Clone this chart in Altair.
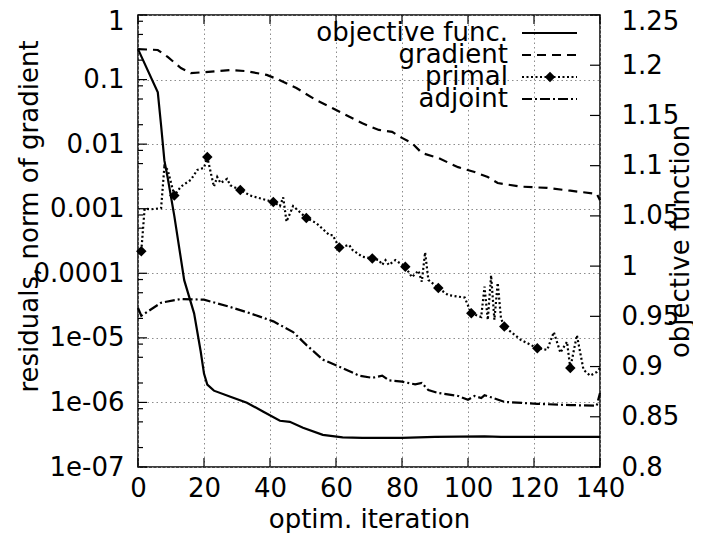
import altair as alt
import pandas as pd

# ---------------- data ----------------
series_names = ["objective func.", "gradient", "primal", "adjoint"]

obj_it = [0, 6, 7, 8, 9, 11, 14, 17, 19, 20, 21, 23, 28, 33, 38, 43, 46, 50, 56, 62, 68, 80, 90, 105, 110, 140]
obj_val = [1.216, 1.173, 1.14, 1.105, 1.088, 1.05, 0.986, 0.953, 0.915, 0.893, 0.882, 0.876, 0.870,
           0.864, 0.855, 0.846, 0.845, 0.839, 0.832, 0.8295, 0.829, 0.829, 0.830, 0.8305, 0.830, 0.830]

grad_it = [0, 6, 9, 13, 16, 20, 28, 33, 39, 43, 48, 54, 59, 68, 73, 77, 80, 83, 86, 91, 97, 102,
           106, 109, 116, 124, 131, 139, 140]
grad_val = [0.297, 0.287, 0.224, 0.151, 0.126, 0.13, 0.14, 0.135, 0.118, 0.098, 0.074, 0.048, 0.036,
            0.021, 0.0166, 0.0155, 0.0125, 0.0104, 0.0073, 0.0061, 0.0044, 0.0037, 0.0031, 0.0025,
            0.0022, 0.0021, 0.0019, 0.0017, 0.00135]

primal_it = [1, 2, 4, 7, 8, 9, 11, 13, 16, 18, 20, 21, 23, 24, 25, 27, 28, 31, 34, 38, 41, 43, 44,
             45, 47, 51, 54, 58, 59, 61, 64, 65, 68, 71, 73, 74, 75, 76, 78, 81, 83, 85, 86, 87, 88,
             91, 94, 99, 101, 104, 105, 106, 107, 108, 109, 110, 111, 116, 121, 124, 126, 128, 130,
             131, 133, 135, 137, 139, 140]
primal_val = [2.2e-4, 1.0e-3, 9.8e-4, 1.02e-3, 4.5e-3, 4.0e-3, 1.6e-3, 2.2e-3, 2.8e-3, 4.0e-3,
              4.3e-3, 6.3e-3, 2.2e-3, 3.1e-3, 2.5e-3, 2.9e-3, 2.3e-3, 1.95e-3, 1.6e-3, 1.4e-3,
              1.27e-3, 1.1e-3, 1.5e-3, 6.3e-4, 1.1e-3, 7.2e-4, 6.0e-4, 3.9e-4, 3.9e-4, 2.5e-4,
              2.75e-4, 2.3e-4, 1.8e-4, 1.7e-4, 1.6e-4, 1.35e-4, 1.6e-4, 1.35e-4, 1.6e-4, 1.26e-4,
              8.7e-5, 1.1e-4, 7.4e-5, 2.1e-4, 7.9e-5, 5.9e-5, 4.6e-5, 4.2e-5, 2.4e-5, 2.1e-5,
              6.2e-5, 1.9e-5, 9.3e-5, 1.9e-5, 7.1e-5, 2.0e-5, 1.5e-5, 9.3e-6, 6.9e-6, 6.5e-6,
              1.23e-5, 5.9e-6, 8.7e-6, 3.4e-6, 1.1e-5, 3.2e-6, 2.6e-6, 2.95e-6, 3.4e-6]
primal_marker_it = [1, 11, 21, 31, 41, 51, 61, 71, 81, 91, 101, 111, 121, 131]

adj_it = [0, 1, 7, 13, 20, 28, 34, 41, 47, 51, 56, 62, 67, 71, 74, 76, 80, 84, 86, 88, 91, 97, 100,
          102, 104, 105, 107, 111, 121, 131, 139, 140]
adj_val = [2.9e-5, 2.2e-5, 3.5e-5, 4.0e-5, 3.9e-5, 3.0e-5, 2.4e-5, 1.8e-5, 1.23e-5, 7.8e-6, 4.6e-6,
           3.4e-6, 2.6e-6, 2.4e-6, 2.6e-6, 2.2e-6, 2.1e-6, 1.9e-6, 2.0e-6, 1.55e-6, 1.4e-6, 1.26e-6,
           1.1e-6, 1.26e-6, 1.17e-6, 1.29e-6, 1.2e-6, 1.02e-6, 9.5e-7, 9.1e-7, 8.9e-7, 1.4e-6]

x_ticks = [0, 20, 40, 60, 80, 100, 120, 140]
y_ticks = [1e-7, 1e-6, 1e-5, 1e-4, 1e-3, 1e-2, 1e-1, 1]
y_minor_mult = [2, 5, 8]
y2_ticks = [0.8, 0.85, 0.9, 0.95, 1.0, 1.05, 1.1, 1.15, 1.2, 1.25]

# ---------------- tables ----------------
left_df = pd.concat([
    pd.DataFrame({"it": grad_it, "v": grad_val, "series": "gradient"}),
    pd.DataFrame({"it": primal_it, "v": primal_val, "series": "primal"}),
    pd.DataFrame({"it": adj_it, "v": adj_val, "series": "adjoint"}),
], ignore_index=True)
primal_df = pd.DataFrame({"it": primal_it, "v": primal_val})
marker_df = primal_df[primal_df["it"].isin(primal_marker_it)]
obj_df = pd.DataFrame({"it": obj_it, "obj": obj_val})
minor_vals = [m * d for d in y_ticks[:-1] for m in y_minor_mult]

FONT = "DejaVu Sans"
FS = 26
GRID = dict(grid=True, gridColor="#8c8c8c", gridDash=[1.5, 3], gridWidth=1)

x_enc = alt.X(
    "it:Q",
    scale=alt.Scale(domain=[0, 140], nice=False, zero=False),
    axis=alt.Axis(values=x_ticks, title="optim. iteration", ticks=False, tickSize=0, domain=False,
                  labelPadding=29, labelBaseline="alphabetic", labelFlush=False, labelOverlap=False,
                  titleX=231, titleY=60, titleAlign="center", titleBaseline="alphabetic", **GRID),
)

yl_enc = alt.Y(
    "v:Q",
    scale=alt.Scale(type="log", domain=[1e-7, 1], nice=False),
    axis=alt.Axis(values=y_ticks,
                  labelExpr="datum.value >= 0.0001 ? format(datum.value, '~g') : '1e-0' + format(-round(log(datum.value)/LN10), 'd')",
                  title="residuals, norm of gradient", ticks=False, tickSize=0, domain=False,
                  labelPadding=14, labelBaseline="middle", labelOverlap=False,
                  labelOffset={"condition": {"test": "datum.value >= 0.5", "value": 6}, "value": 0},
                  titleAngle=270, titleX=-101, titleY=201, titleAlign="center",
                  titleBaseline="alphabetic", **GRID),
)

yr_enc = alt.Y(
    "obj:Q",
    scale=alt.Scale(domain=[0.8, 1.25], nice=False, zero=False),
    axis=alt.Axis(orient="right", values=y2_ticks, format="~g", title="objective function",
                  grid=False, ticks=False, tickSize=0, domain=False, labelPadding=21,
                  labelBaseline="middle", labelOverlap=False,
                  labelOffset={"condition": {"test": "datum.value >= 1.24", "value": 6}, "value": 0},
                  titleAngle=270, titleX=88,
                  titleY=226, titleAlign="center", titleBaseline="alphabetic"),
)

dash_scale = alt.Scale(domain=series_names, range=[[1, 0], [9, 6], [2, 2.5], [10, 3, 2, 3]])

# ---------------- left (log) group ----------------
lines_left = alt.Chart(left_df).mark_line(color="black", strokeWidth=2.2).encode(
    x=x_enc, y=yl_enc,
    strokeDash=alt.StrokeDash("series:N", scale=dash_scale, legend=None),
    detail="series:N",
)
markers = alt.Chart(marker_df).mark_point(shape="diamond", filled=True, size=110, color="black",
                                          opacity=1).encode(x=x_enc, y=yl_enc)
left_major = alt.Chart(pd.DataFrame({"v": y_ticks})).mark_rule(color="black", strokeWidth=1.2).encode(
    y=yl_enc, x=alt.value(0), x2=alt.value(9))
left_minor = alt.Chart(pd.DataFrame({"v": minor_vals})).mark_rule(color="black", strokeWidth=1.2).encode(
    y=yl_enc, x=alt.value(0), x2=alt.value(5))
bottom_ticks = alt.Chart(pd.DataFrame({"it": x_ticks})).mark_rule(color="black", strokeWidth=1.2).encode(
    x=x_enc, y=alt.value(452), y2=alt.value(443))
top_ticks = alt.Chart(pd.DataFrame({"it": x_ticks})).mark_rule(color="black", strokeWidth=1.2).encode(
    x=x_enc, y=alt.value(0), y2=alt.value(9))

left_group = alt.layer(lines_left, markers, left_major, left_minor, bottom_ticks, top_ticks)

# ---------------- right (linear) group ----------------
obj_line = alt.Chart(obj_df).mark_line(color="black", strokeWidth=2.2).encode(x=x_enc, y=yr_enc)
right_ticks = alt.Chart(pd.DataFrame({"obj": y2_ticks})).mark_rule(color="black", strokeWidth=1.2).encode(
    y=yr_enc, x=alt.value(462), x2=alt.value(452))
right_group = alt.layer(obj_line, right_ticks)

# ---------------- legend ----------------
leg_df = pd.DataFrame({"label": series_names})
leg_y = alt.Y("label:N", scale=alt.Scale(type="point", domain=series_names, range=[18, 84], padding=0),
              axis=None)
leg_text = alt.Chart(leg_df).mark_text(align="right", baseline="middle", fontSize=FS, font=FONT,
                                       color="black").encode(x=alt.value(370), y=leg_y, text="label:N")
leg_lines = alt.Chart(leg_df).mark_rule(color="black", strokeWidth=2.2).encode(
    x=alt.value(384), x2=alt.value(439), y=leg_y,
    strokeDash=alt.StrokeDash("label:N", scale=dash_scale, legend=None))
leg_marker = alt.Chart(leg_df).transform_filter(alt.datum.label == "primal").mark_point(
    shape="diamond", filled=True, size=110, color="black", opacity=1).encode(x=alt.value(412), y=leg_y)
legend_group = alt.layer(leg_lines, leg_marker, leg_text)

chart = alt.layer(left_group, right_group, legend_group).resolve_scale(y="independent").properties(
    width=462, height=452,
    padding={"left": 130, "top": 7, "right": 93, "bottom": 66},
    autosize=alt.AutoSizeParams(type="none"),
).configure_view(stroke="black", strokeWidth=1.5).configure_axis(
    labelFont=FONT, titleFont=FONT, labelFontSize=FS, titleFontSize=FS,
    labelColor="black", titleColor="black", titleFontWeight="normal",
)

chart.save("out.html", embed_options={"renderer": "svg", "actions": False})
